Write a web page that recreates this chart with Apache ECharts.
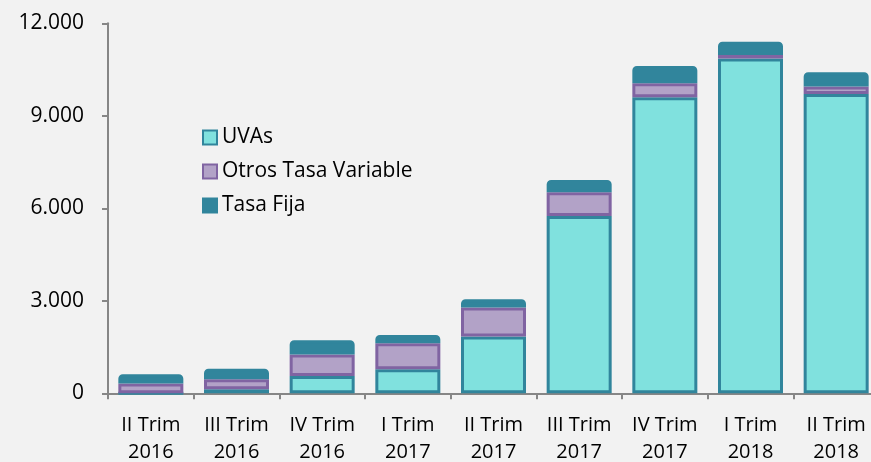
<!DOCTYPE html>
<html>
<head>
<meta charset="utf-8">
<script src="https://cdn.jsdelivr.net/npm/echarts@6/dist/echarts.min.js"></script>
<style>
  html, body { margin: 0; padding: 0; background: #f2f2f2; }
  #chart { width: 871px; height: 462px; }
</style>
</head>
<body>
<div id="chart"></div>
<script>
  // trimestres
  var categories = [
    'II Trim\n2016', 'III Trim\n2016', 'IV Trim\n2016',
    'I Trim\n2017', 'II Trim\n2017', 'III Trim\n2017',
    'IV Trim\n2017', 'I Trim\n2018', 'II Trim\n2018'
  ]
  var uvas = [0, 130, 560, 780, 1840, 5750, 9600, 10860, 9710]
  var otrosVariable = [320, 325, 700, 840, 940, 770, 455, 110, 240]
  var tasaFija = [300, 345, 460, 270, 270, 400, 560, 430, 465]
  var yTicks = [0, 3000, 6000, 9000, 12000]

  var chart = echarts.init(document.getElementById('chart'))
  var font = 'Open Sans'

  function fmt(v) {
    return String(v).replace(/\B(?=(\d{3})+(?!\d))/g, '.')
  }

  var option = {
    backgroundColor: '#f2f2f2',
    animation: false,
    textStyle: { fontFamily: font },
    legend: {
      orient: 'vertical',
      left: 197,
      top: 119,
      icon: 'rect',
      itemWidth: 14,
      itemHeight: 14,
      itemGap: 7,
      textStyle: { fontFamily: font, fontSize: 21, color: '#000', lineHeight: 27 },
      data: ['UVAs', 'Otros Tasa Variable', 'Tasa Fija']
    },
    grid: { left: 108, right: -8, top: 23.3, bottom: 68.7, outerBoundsMode: 'none' },
    xAxis: {
      type: 'category',
      data: categories,
      axisLine: { lineStyle: { color: '#868686', width: 2 } },
      axisTick: { show: true, length: 6, lineStyle: { color: '#868686', width: 2 } },
      axisLabel: {
        color: '#000',
        fontFamily: font,
        fontSize: 20,
        lineHeight: 27,
        margin: 18
      }
    },
    yAxis: {
      type: 'value',
      min: yTicks[0],
      max: yTicks[yTicks.length - 1],
      interval: 3000,
      splitLine: { show: false },
      axisLine: { show: true, lineStyle: { color: '#868686', width: 2 } },
      axisTick: { show: true, length: 6, lineStyle: { color: '#868686', width: 2 } },
      axisLabel: {
        color: '#000',
        fontFamily: font,
        fontSize: 21,
        margin: 24,
        formatter: fmt
      }
    },
    series: [
      {
        name: 'UVAs',
        type: 'bar',
        stack: 'total',
        barWidth: 65,
        itemStyle: { color: '#80e1de', borderColor: '#31859c', borderWidth: 3 },
        data: uvas
      },
      {
        name: 'Otros Tasa Variable',
        type: 'bar',
        stack: 'total',
        barWidth: 65,
        itemStyle: { color: '#b2a2c7', borderColor: '#8064a2', borderWidth: 3 },
        data: otrosVariable
      },
      {
        name: 'Tasa Fija',
        type: 'bar',
        stack: 'total',
        barWidth: 65,
        itemStyle: {
          color: '#31859c',
          borderColor: '#31859c',
          borderWidth: 3,
          borderRadius: [3, 3, 0, 0]
        },
        data: tasaFija
      }
    ]
  }
  chart.setOption(option)
</script>
</body>
</html>
